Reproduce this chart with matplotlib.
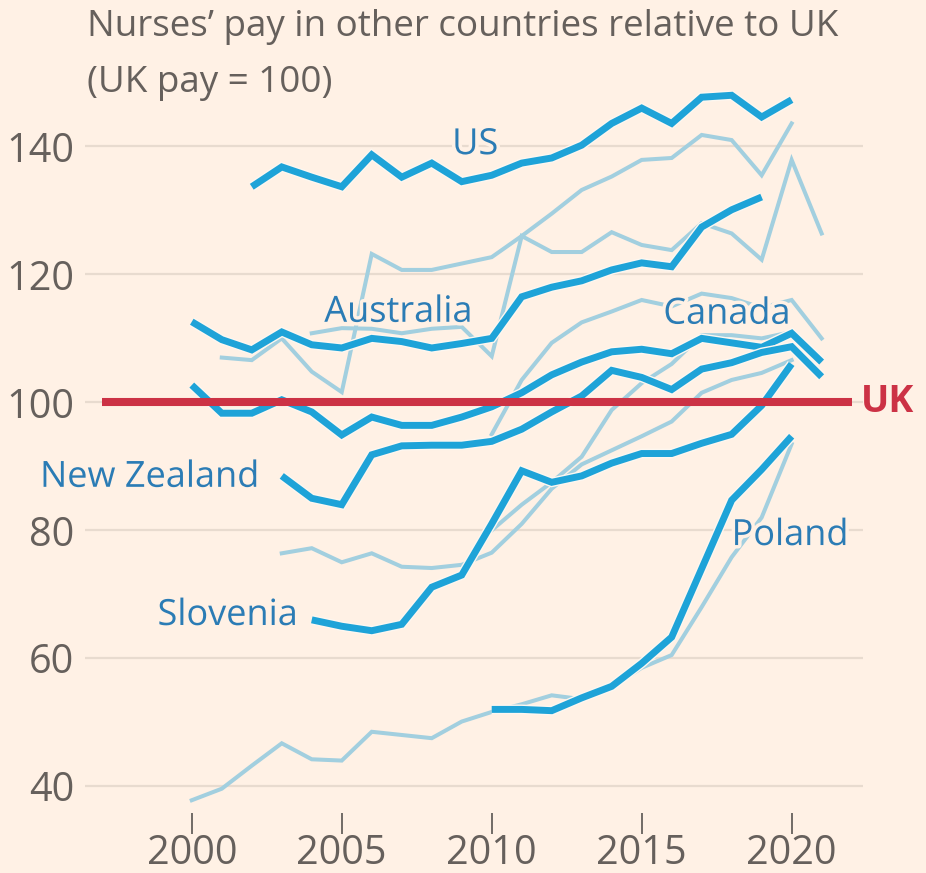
import matplotlib.pyplot as plt
import matplotlib.patheffects as pe

# bold (labelled) countries
us_years = list(range(2002, 2021))
us = [133.7, 136.8, 135.2, 133.7, 138.7, 135.2, 137.4, 134.5, 135.5, 137.4,
      138.2, 140.2, 143.6, 146.0, 143.6, 147.7, 148.0, 144.6, 147.3]
aus_years = list(range(2000, 2020))
aus = [112.6, 109.8, 108.2, 111.0, 109.0, 108.5, 110.0, 109.5, 108.5, 109.2,
       110.0, 116.5, 118.0, 119.0, 120.7, 121.8, 121.2, 127.4, 130.1, 132.1]
can_years = list(range(2000, 2022))
can = [102.7, 98.3, 98.3, 100.4, 98.5, 94.9, 97.7, 96.4, 96.4, 97.7, 99.3,
       101.5, 104.3, 106.3, 107.9, 108.3, 107.6, 110.0, 109.3, 108.6, 110.8, 106.3]
nz_years = list(range(2003, 2022))
nz = [88.5, 85.0, 84.0, 91.8, 93.2, 93.3, 93.3, 93.9, 95.8, 98.5, 101.0,
      105.0, 103.9, 102.0, 105.2, 106.2, 107.8, 108.7, 104.0]
slo_years = list(range(2004, 2021))
slo = [66.0, 65.0, 64.3, 65.3, 71.1, 73.0, 81.0, 89.3, 87.5, 88.5, 90.5,
       92.0, 92.0, 93.6, 95.0, 99.5, 106.0]
pol_years = list(range(2010, 2021))
pol = [52.0, 52.0, 51.8, 53.8, 55.6, 59.2, 63.3, 74.0, 84.7, 89.5, 94.7]

# other countries (unlabelled)
la_years = list(range(2001, 2021))
la = [107.0, 106.6, 110.0, 104.8, 101.6, 123.2, 120.7, 120.7, 121.7, 122.7,
      126.0, 129.5, 133.2, 135.3, 137.9, 138.2, 141.8, 141.0, 135.5, 143.6]
lb_years = list(range(2004, 2022))
lb = [110.8, 111.6, 111.5, 110.8, 111.5, 111.8, 107.2, 126.0, 123.5, 123.5,
      126.6, 124.6, 123.8, 128.0, 126.4, 122.3, 137.9, 126.4]
lc_years = list(range(2010, 2022))
lc = [95.0, 103.5, 109.3, 112.5, 114.2, 116.0, 115.0, 117.0, 116.3, 114.8, 116.0, 110.0]
ld_years = list(range(2003, 2021))
ld = [76.4, 77.2, 75.0, 76.4, 74.3, 74.1, 74.6, 76.5, 81.0, 86.5, 90.3, 92.5,
      94.7, 97.0, 101.5, 103.5, 104.6, 106.6]
le_years = list(range(2010, 2021))
le = [80.0, 84.0, 87.5, 91.5, 98.8, 103.0, 106.0, 110.5, 110.5, 110.0, 111.0]
lf_years = list(range(2000, 2021))
lf = [37.8, 39.6, 43.2, 46.7, 44.2, 44.0, 48.5, 48.0, 47.5, 50.1, 51.6, 52.8,
      54.2, 53.6, 55.5, 58.5, 60.5, 68.0, 75.8, 82.0, 93.5]

labels = ['US', 'Australia', 'Canada', 'New Zealand', 'Slovenia', 'Poland']
label_x = [2009.45, 2006.9, 2017.85, 1998.6, 2001.2, 2019.95]
label_y = [140.2, 114.0, 113.7, 88.2, 66.6, 79.1]

bg = '#fff1e5'
bold_c = '#1ea3d8'
light_c = '#a2cfdf'
text_c = '#66605c'
lab_c = '#2b7cb5'

plt.rcParams['font.family'] = ['Open Sans', 'DejaVu Sans']

fig = plt.figure(figsize=(9.26, 8.73), dpi=100, facecolor=bg)
ax = fig.add_axes([0.0918, 0.0687, 0.8402, 0.8368])
ax.set_facecolor(bg)

ax.set_xlim(1996.44, 2022.38)
ax.set_ylim(35.8, 150)
ax.set_yticks([40, 60, 80, 100, 120, 140])
ax.set_xticks([2000, 2005, 2010, 2015, 2020])
ax.grid(axis='y', color='#e8dbcf', lw=1.6, zorder=0)
for s in ax.spines.values():
    s.set_visible(False)
ax.tick_params(axis='y', length=0, pad=8, labelsize=28.5, labelcolor=text_c)
ax.tick_params(axis='x', length=15, width=1.3, color=text_c, pad=0,
               labelsize=28.5, labelcolor=text_c)

for xs, ys in [(la_years, la), (lb_years, lb), (lc_years, lc),
               (ld_years, ld), (le_years, le), (lf_years, lf)]:
    ax.plot(xs, ys, color=light_c, lw=2.9, zorder=2, solid_joinstyle='miter')

halo = [pe.Stroke(linewidth=7, foreground='#fdf7f0'), pe.Normal()]
for xs, ys in [(us_years, us), (aus_years, aus), (can_years, can),
               (nz_years, nz), (slo_years, slo), (pol_years, pol)]:
    ax.plot(xs, ys, color=bold_c, lw=5, zorder=3, path_effects=halo,
            solid_joinstyle='miter', solid_capstyle='butt')

ax.plot([1997, 2022], [100, 100], color='#cc3245', lw=5.8, zorder=4,
        solid_capstyle='butt')
ax.text(2023.2, 100, 'UK', color='#cc3245', fontsize=27, fontweight='bold',
        ha='center', va='center', clip_on=False)

txt_halo = [pe.withStroke(linewidth=5, foreground=bg)]
for name, x, y in zip(labels, label_x, label_y):
    ax.text(x, y, name, color=lab_c, fontsize=26, ha='center', va='center',
            zorder=5, path_effects=txt_halo, clip_on=False)

fig.text(0.094, 0.9585, 'Nurses\u2019 pay in other countries relative to UK',
         color=text_c, fontsize=26.5, va='baseline')
fig.text(0.094, 0.8946, '(UK pay = 100)', color=text_c, fontsize=26.5,
         va='baseline')

fig.savefig('out.png', dpi=100, facecolor=bg)
